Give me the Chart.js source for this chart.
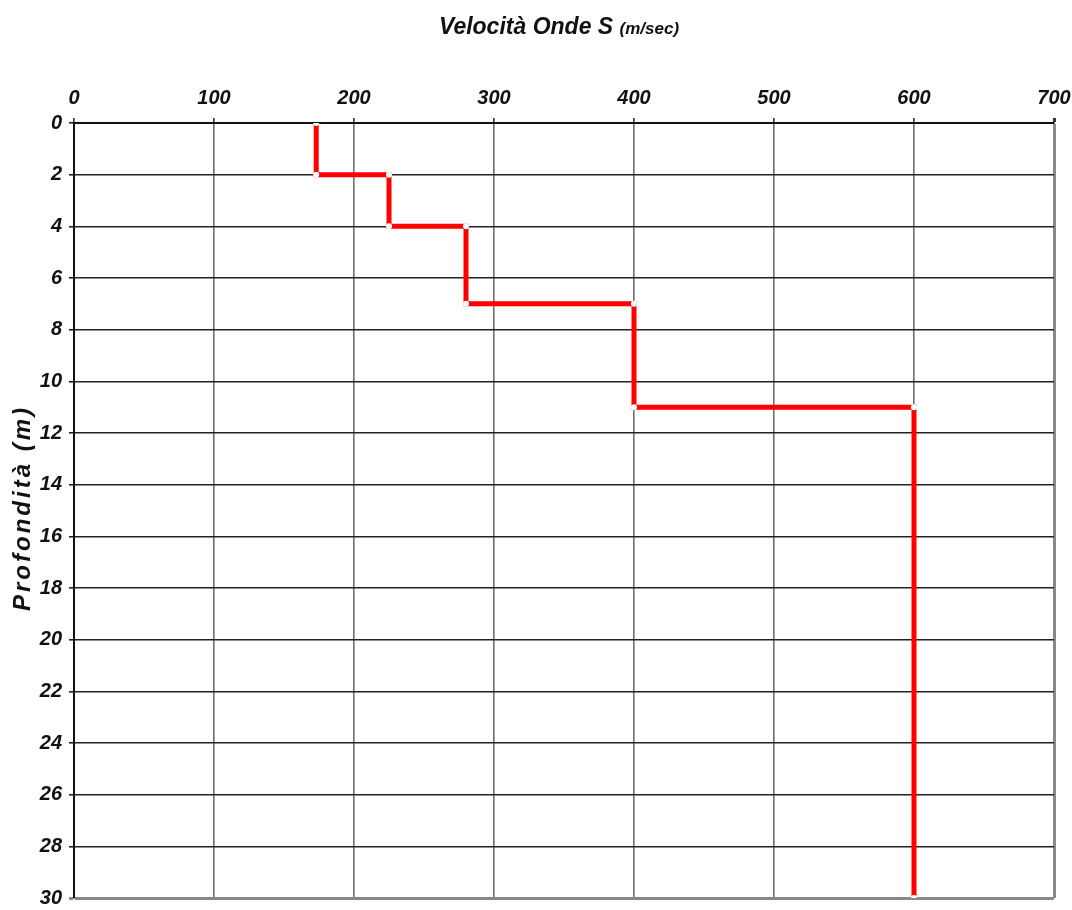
<!DOCTYPE html>
<html>
<head>
<meta charset="utf-8">
<script src="https://cdn.jsdelivr.net/npm/chart.js@4"></script>
<style>
  html, body { margin: 0; padding: 0; background: #fff; }
  #wrap { position: relative; width: 1072px; height: 910px; }
  #title {
    position: absolute; left: 0; width: 1118px; top: 13px; text-align: center;
    font-family: "Liberation Sans", Arial, sans-serif;
    font-style: italic; font-weight: bold; font-size: 23px; color: #111;
  }
  #title small { font-size: 17px; }
  #ytitle {
    position: absolute; left: 22px; top: 508px; transform: translate(-50%, -50%) rotate(-90deg);
    white-space: nowrap; font-family: "Liberation Sans", Arial, sans-serif;
    font-style: italic; font-weight: bold; font-size: 24px; letter-spacing: 3px; color: #111;
  }
</style>
</head>
<body>
<div id="wrap">
  <canvas id="chart" width="1072" height="910"></canvas>
  <div id="title">Velocità Onde S <small>(m/sec)</small></div>
  <div id="ytitle">Profondità (m)</div>
</div>
<script>
const layerTop = [0, 2, 4, 7, 11];
const layerBottom = [2, 4, 7, 11, 30];
const velocity = [173, 225, 280, 400, 600];
const xTicks = [0, 100, 200, 300, 400, 500, 600, 700];
const depthTicks = [0, 2, 4, 6, 8, 10, 12, 14, 16, 18, 20, 22, 24, 26, 28, 30];

// step profile: each layer drawn as a vertical segment joined to the next
const points = [];
velocity.forEach((v, i) => {
  points.push({ x: v, y: layerTop[i] });
  points.push({ x: v, y: layerBottom[i] });
});

const tickFont = { family: "'Liberation Sans', Arial, sans-serif", size: 20, style: "italic", weight: "bold" };

new Chart(document.getElementById("chart").getContext("2d"), {
  type: "scatter",
  data: {
    datasets: [{
      data: points,
      showLine: true,
      borderColor: "#ff0000",
      borderWidth: 5,
      pointRadius: 3,
      pointBackgroundColor: "#ffffff",
      pointBorderWidth: 0
    }]
  },
  options: {
    responsive: false,
    animation: false,
    layout: { padding: { top: 60, right: 18, bottom: 12, left: 0 } },
    plugins: { legend: { display: false }, tooltip: { enabled: false } },
    scales: {
      x: {
        position: "top",
        min: 0, max: 700,
        afterBuildTicks: s => { s.ticks = xTicks.map(v => ({ value: v })); },
        afterFit: s => { s.height = 63; s.paddingLeft = 0; s.paddingRight = 0; },
        ticks: { color: "#111", font: tickFont, padding: 8 },
        grid: {
          color: ctx => ctx.tick && ctx.tick.value === 700 ? "#888" : "#707070",
          lineWidth: ctx => ctx.tick && ctx.tick.value === 700 ? 3 : 1.6,
          tickLength: 5,
          tickColor: "#333"
        },
        border: { color: "#111", width: 2 }
      },
      y: {
        reverse: true,
        min: 0, max: 30,
        afterBuildTicks: s => { s.ticks = depthTicks.map(v => ({ value: v })); },
        afterFit: s => { s.width = 74; s.paddingTop = 0; s.paddingBottom = 0; },
        ticks: { color: "#111", font: tickFont, padding: 7 },
        grid: {
          color: ctx => ctx.tick && ctx.tick.value === 30 ? "#888" : "#222",
          lineWidth: ctx => ctx.tick && ctx.tick.value === 30 ? 3 : 1.6,
          tickLength: 5
        },
        border: { color: "#111", width: 2 }
      }
    }
  }
});
</script>
</body>
</html>
